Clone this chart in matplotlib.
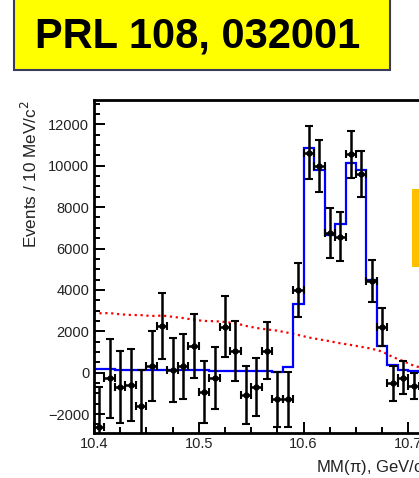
import numpy as np
import matplotlib
matplotlib.use('Agg')
from matplotlib import pyplot as plt
from matplotlib.patches import Rectangle
from matplotlib.ticker import MultipleLocator

plt.rcParams['font.family'] = ['Liberation Sans', 'DejaVu Sans']

# data points: missing-mass bins of 10 MeV
mm = [10.405, 10.415, 10.425, 10.435, 10.445, 10.455, 10.465, 10.475, 10.485, 10.495,
      10.505, 10.515, 10.525, 10.535, 10.545, 10.555, 10.565, 10.575, 10.585, 10.595,
      10.605, 10.615, 10.625, 10.635, 10.645, 10.655, 10.665, 10.675, 10.685, 10.695,
      10.705]
events = [-2610, -270, -680, -590, -1590, 320, 2270, 130, 320, 1290,
          -950, -270, 2220, 1060, -1080, -680, 1060, -1290, -1290, 4000,
          10630, 9990, 6760, 6570, 10560, 9600, 4430, 2190, -510, -240,
          -640]
errors = [1900, 1900, 1740, 1730, 1700, 1710, 1590, 1570, 1570, 1560,
          1500, 1490, 1470, 1460, 1400, 1400, 1380, 1330, 1320, 1310,
          1290, 1250, 1210, 1180, 1140, 1090, 1020, 920, 840, 800,
          620]

# fit result, one value per bin
fit_edges = np.round(np.arange(10.40, 10.7201, 0.01), 3)
fit = [160, 155, 150, 145, 140, 135, 130, 125, 120, 115, 110, 100, 95, 90, 80, 70, 60, 50,
       261, 3319, 10880, 9800, 6640, 7184, 10145, 9792, 4490, 1304, 372, 150, 60, 50]

# background shape (dotted red)
bg_x = [10.400, 10.400, 10.405, 10.415, 10.425, 10.435, 10.445, 10.455, 10.465, 10.475,
        10.485, 10.495, 10.505, 10.515, 10.525, 10.535, 10.545, 10.555, 10.565, 10.575,
        10.585, 10.595, 10.605, 10.615, 10.625, 10.635, 10.645, 10.655, 10.665, 10.675,
        10.685, 10.695, 10.705, 10.715]
bg_y = [0, 2870, 2870, 2880, 2820, 2790, 2780, 2740, 2760, 2700,
        2640, 2560, 2500, 2490, 2450, 2390, 2260, 2160, 2090, 2030,
        1930, 1820, 1700, 1610, 1520, 1420, 1340, 1250, 1160, 1020,
        760, 560, 340, 200]

W, H = 419, 478
fig = plt.figure(figsize=(W / 100, H / 100), dpi=100)

x0, x1 = 10.4, 10.8
px_per_unit = 1048
left, bottom, top = 94 / W, 1 - 432.5 / H, 1 - 99.7 / H
ax = fig.add_axes([left, bottom, (x1 - x0) * px_per_unit / W, top - bottom])

ax.plot(bg_x, bg_y, color='red', linestyle=':', linewidth=1.6, zorder=1)
ax.stairs(fit, fit_edges, color='blue', linewidth=1.6, zorder=2)
ax.errorbar(mm, events, xerr=0.005, yerr=errors, fmt='o', ms=3.5, color='black',
            elinewidth=1.8, capsize=3, capthick=1.5, zorder=3)

ax.set_xlim(x0, x1)
ax.set_ylim(-2890, 13190)
ax.xaxis.set_major_locator(MultipleLocator(0.1))
ax.xaxis.set_minor_locator(MultipleLocator(0.025))
ax.yaxis.set_major_locator(MultipleLocator(2000))
ax.yaxis.set_minor_locator(MultipleLocator(500))
ax.tick_params(which='both', direction='in', top=False, right=False,
               labelsize=10.5, labelcolor='#222222', width=1.4)
ax.tick_params(which='major', length=8)
ax.tick_params(which='minor', length=4)
for s in ax.spines.values():
    s.set_linewidth(2)

fig.text(30 / W, 1 - 174 / H, 'Events / 10 MeV/c$^2$', rotation=90, ha='center',
         va='center', fontsize=12.3, color='#222222')
fig.text(316 / W, 1 - 466 / H, 'MM(π), GeV/c$^2$', ha='left', va='center',
         fontsize=12, color='#222222')

# title box
fig.patches.append(Rectangle((14 / W, 1 - 70 / H), 376 / W, 80 / H, transform=fig.transFigure,
                             facecolor='#FFFF00', edgecolor='#3a3a5a', linewidth=1.5, zorder=5))
fig.text(198 / W, 1 - 36 / H, 'PRL 108, 032001', ha='center', va='center',
         fontsize=30, fontweight='bold', color='black', zorder=6)

# orange marker at right
fig.patches.append(Rectangle((411.5 / W, 1 - 266.5 / H), 20 / W, 77.5 / H, transform=fig.transFigure,
                             facecolor='#FFC000', edgecolor='none', zorder=5))

fig.savefig('out.png', dpi=100)
